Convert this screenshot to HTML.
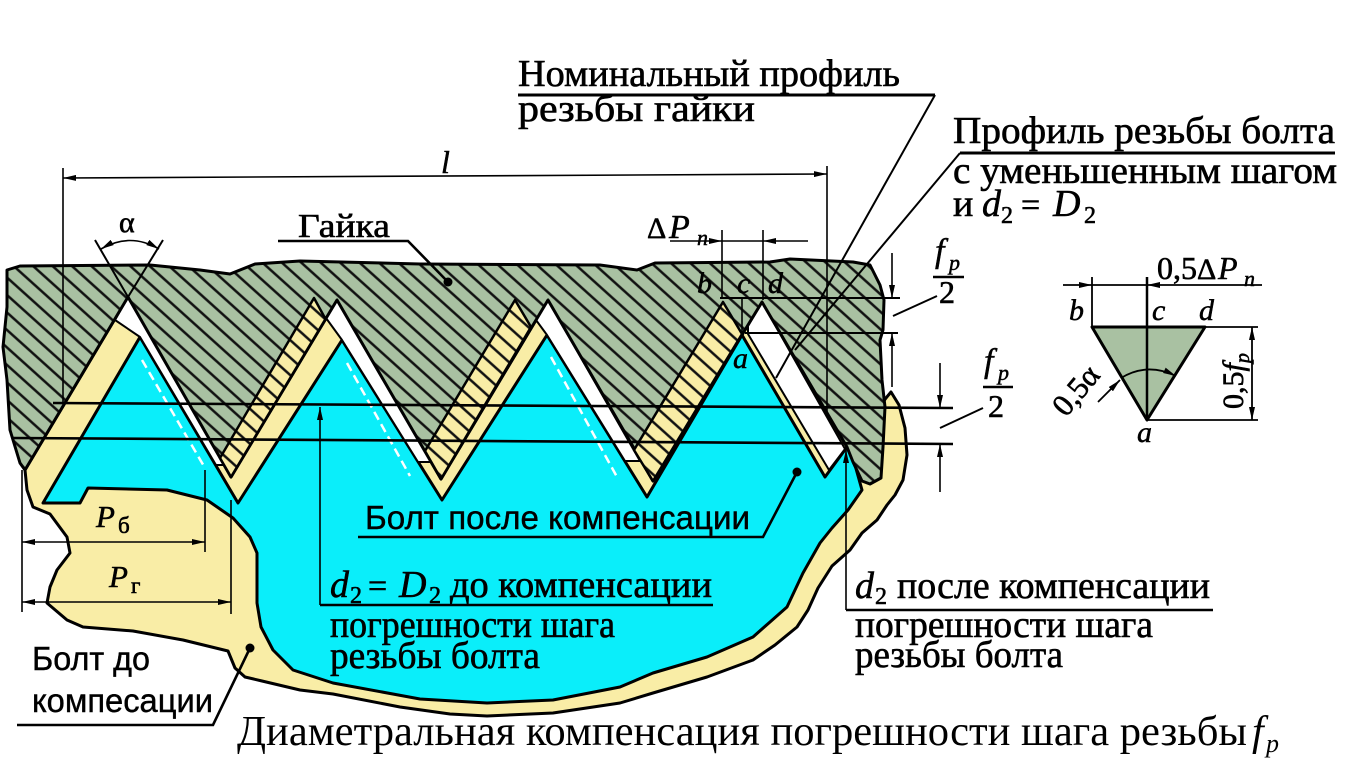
<!DOCTYPE html>
<html><head><meta charset="utf-8">
<style>
html,body{margin:0;padding:0;background:#fff}
svg{display:block}
.s{font-family:"Liberation Serif","DejaVu Serif",serif;fill:#000;stroke:#000;stroke-width:0.6}
.si{font-family:"Liberation Serif","DejaVu Serif",serif;font-style:italic;fill:#000;stroke:#000;stroke-width:0.5}
.c{font-family:"Liberation Serif","DejaVu Serif",serif;fill:#000}
.a{font-family:"Liberation Sans","DejaVu Sans",sans-serif;fill:#000;stroke:#000;stroke-width:0.4}
.ln{stroke:#000;fill:none}
</style></head>
<body>
<svg width="1354" height="772" viewBox="0 0 1354 772" xmlns="http://www.w3.org/2000/svg">
<defs>
<pattern id="hat" patternUnits="userSpaceOnUse" width="40" height="13" patternTransform="rotate(42)">
<rect width="40" height="13" fill="#a9c1a2"/><rect y="5.3" width="40" height="2.5" fill="#111"/>
</pattern>
<pattern id="haty" patternUnits="userSpaceOnUse" width="40" height="13" patternTransform="rotate(42)">
<rect width="40" height="13" fill="#f9eda6"/><rect y="5.3" width="40" height="2.5" fill="#111"/>
</pattern>
<marker id="ar" viewBox="0 0 13 6" refX="13" refY="3" markerWidth="13" markerHeight="6" markerUnits="userSpaceOnUse" orient="auto-start-reverse">
<path d="M0,0 L13,3 L0,6 z" fill="#000"/>
</marker>
</defs>
<rect width="1354" height="772" fill="#fff"/>

<path d="M25,470 L128,297 L231,477 L337,300 L441,479 L548,300 L653,481 L762,302 L847,447 L870,420 L886,398 L891,392 L899,405 L905,428 L907,455 L903,480 L895,495 L887,505 L877,520 L862,533 L850,550 L832,566 L818,588 L808,610 L797,627 L775,645 L753,660 L707,677 L653,693 L620,703 L553,713 L487,716 L450,714 L400,707 L333,694 L300,690 L262,681 L245,677 L235,668 L228,651 L183,640 L133,631 L83,627 L67,620 L47,603 L50,587 L57,570 L70,553 L67,537 L50,514 L33,507 L27,490 Z" fill="#f9eda6" stroke="#000" stroke-width="3" stroke-linejoin="round"/>

<path d="M43,503 L140,337 L238,503 L342,340 L442,500 L547,335 L647,497 L742,335 L825,477 L847,447 L855,465 L862,490 L848,510 L832,528 L820,543 L803,573 L787,607 L770,622 L753,637 L707,657 L653,673 L620,687 L553,700 L487,703 L420,699 L333,683 L293,670 L273,650 L261,627 L257,603 L257,553 L250,537 L233,518 L207,500 L167,490 L88,488 L80,503 Z" fill="#0aeefa" stroke="#000" stroke-width="3" stroke-linejoin="round"/>

<g fill="#fff" stroke="#000" stroke-width="2" stroke-linejoin="round">
<path d="M128,297 L115,320 L140,337 L216,465 L224,465 Z"/>
<path d="M337,300 L326,318 L342,340 L418,462 L433,462 Z"/>
<path d="M548,300 L536,320 L547,335 L625,461 L640,461 Z"/>
<path d="M762,302 L748,326 L748,334 L829,470 L845,449 Z"/>
</g>

<g stroke="#fff" stroke-width="2.5" stroke-dasharray="9,5">
<line x1="142" y1="360" x2="205" y2="468"/>
<line x1="347" y1="363" x2="410" y2="476"/>
<line x1="551" y1="357" x2="617" y2="477"/>
</g>

<path d="M7,270 L20,266 L150,265 L200,270 L230,274 L255,264 L300,261 L420,264 L600,265 L637,270 L655,263 L770,262 L790,259 L853,262 L870,265 L880,285 L884,300 L883,330 L880,340 L882,380 L885,407 L883,447 L881,478 L870,484 L862,481 L853,462 L847,447 L762,302 L653,481 L548,300 L441,479 L337,300 L231,477 L128,297 L25,470 L20,463 L10,430 L7,380 L3,347 L7,307 Z" fill="url(#hat)" stroke="#000" stroke-width="3" stroke-linejoin="round"/>

<g fill="url(#haty)" stroke="#000" stroke-width="2.5" stroke-linejoin="round">
<path d="M314,298 L325.5,319 L231,477 L220,458 Z"/>
<path d="M515,300 L531,327 L441,479 L425,451 Z"/>
<path d="M723,302 L742,334 L653,481 L634,450 Z"/>
</g>

<g class="ln" stroke-width="1.6">
<line x1="63" y1="168" x2="63" y2="403"/>
<line x1="827" y1="166" x2="827" y2="415"/>
<line x1="722" y1="230" x2="722" y2="298"/>
<line x1="763" y1="230" x2="763" y2="300"/>
<line x1="742" y1="298" x2="742" y2="334"/>
<line x1="22" y1="470" x2="22" y2="612"/>
<line x1="205" y1="470" x2="205" y2="552"/>
<line x1="231" y1="500" x2="231" y2="614"/>
<line x1="892" y1="253" x2="892" y2="298" marker-end="url(#ar)"/>
<line x1="892" y1="387" x2="892" y2="333" marker-end="url(#ar)"/>
<line x1="940" y1="363" x2="940" y2="408" marker-end="url(#ar)"/>
<line x1="940" y1="492" x2="940" y2="444" marker-end="url(#ar)"/>
<line x1="63" y1="178" x2="827" y2="174" marker-start="url(#ar)" marker-end="url(#ar)"/>
<line x1="670" y1="241" x2="722" y2="241" marker-end="url(#ar)"/>
<line x1="722" y1="241" x2="763" y2="241"/>
<line x1="808" y1="241" x2="763" y2="241" marker-end="url(#ar)"/>
<line x1="22" y1="542" x2="205" y2="542" marker-start="url(#ar)" marker-end="url(#ar)"/>
<line x1="22" y1="602" x2="231" y2="602" marker-start="url(#ar)" marker-end="url(#ar)"/>
<line x1="320" y1="605" x2="320" y2="407" marker-end="url(#ar)"/>
<line x1="846" y1="610" x2="846" y2="450" marker-end="url(#ar)"/>
<path d="M101,249 Q130,232 159,249" marker-start="url(#ar)" marker-end="url(#ar)"/>
</g>
<g class="ln" stroke-width="2">
<line x1="95" y1="240" x2="128" y2="297"/>
<line x1="163" y1="240" x2="128" y2="297"/>
<line x1="720" y1="298" x2="900" y2="298"/>
<line x1="745" y1="333" x2="898" y2="333"/>
<line x1="935" y1="95" x2="776" y2="378"/>
<line x1="960" y1="153" x2="795" y2="350"/>
<line x1="893" y1="316" x2="937" y2="296"/>
<line x1="940" y1="428" x2="983" y2="408"/>
</g>
<g class="ln" stroke-width="2.6">
<line x1="53" y1="403" x2="953" y2="408"/>
<line x1="13" y1="438" x2="953" y2="444"/>
<line x1="518" y1="95" x2="935" y2="95" stroke-width="3"/>
<line x1="960" y1="153" x2="1335" y2="153" stroke-width="3"/>
<polyline points="278,241 408,241 448,282"/>
<polyline points="358,537 763,537 797,472"/>
<line x1="320" y1="605" x2="713" y2="605"/>
<line x1="846" y1="610" x2="1213" y2="610"/>
<polyline points="17,725 213,725 250,648"/>
<line x1="933" y1="277" x2="964" y2="277"/>
<line x1="983" y1="387" x2="1013" y2="387"/>
</g>
<g fill="#000">
<circle cx="448" cy="282" r="4.5"/>
<circle cx="797" cy="472" r="4.5"/>
<circle cx="250" cy="648" r="4.5"/>
</g>

<path d="M1092,327 L1205,327 L1147,420 Z" fill="#a9c1a2" stroke="#000" stroke-width="3" stroke-linejoin="round"/>
<g class="ln" stroke-width="1.8">
<line x1="1147" y1="277" x2="1147" y2="420" stroke-width="2.5"/>
<line x1="1092" y1="277" x2="1092" y2="327"/>
<line x1="1063" y1="285" x2="1092" y2="285" marker-end="url(#ar)"/>
<line x1="1092" y1="285" x2="1147" y2="285"/>
<line x1="1262" y1="285" x2="1147" y2="285" marker-end="url(#ar)"/>
<line x1="1205" y1="327" x2="1258" y2="327"/>
<line x1="1147" y1="420" x2="1258" y2="420"/>
<line x1="1252" y1="327" x2="1252" y2="420" marker-start="url(#ar)" marker-end="url(#ar)"/>
<path d="M1121,378 Q1147,362 1176,376" marker-end="url(#ar)"/>
<line x1="1098" y1="402" x2="1120" y2="380" marker-end="url(#ar)"/>
</g>

<!-- texts -->
<text x="518" y="86" class="s" style="font-size:38px" textLength="382" lengthAdjust="spacingAndGlyphs">Номинальный профиль</text>
<text x="518" y="121" class="s" style="font-size:38px" textLength="237" lengthAdjust="spacingAndGlyphs">резьбы гайки</text>
<text x="953" y="143" class="s" style="font-size:38px" textLength="382" lengthAdjust="spacingAndGlyphs">Профиль резьбы болта</text>
<text x="953" y="183" class="s" style="font-size:38px" textLength="384" lengthAdjust="spacingAndGlyphs">с  уменьшенным шагом</text>
<text x="953" y="216" class="s" style="font-size:38px">и</text>
<text x="982" y="216" class="si" style="font-size:38px">d</text>
<text x="1001" y="223" class="s" style="font-size:24px">2</text>
<text x="1021" y="216" class="s" style="font-size:34px">=</text>
<text x="1053" y="216" class="si" style="font-size:38px">D</text>
<text x="1084" y="223" class="s" style="font-size:24px">2</text>

<text x="441" y="173" class="si" style="font-size:32px">l</text>
<text x="119" y="232" class="s" style="font-size:30px">α</text>
<text x="298" y="237" class="s" style="font-size:34px" textLength="92" lengthAdjust="spacingAndGlyphs">Гайка</text>
<text x="647" y="238" class="s" style="font-size:30px">Δ</text>
<text x="669" y="238" class="si" style="font-size:34px">P</text>
<text x="697" y="245" class="si" style="font-size:22px">n</text>
<text x="697" y="293" class="si" style="font-size:30px">b</text>
<text x="737" y="293" class="si" style="font-size:30px">c</text>
<text x="768" y="293" class="si" style="font-size:30px">d</text>
<text x="733" y="368" class="si" style="font-size:30px">a</text>

<text x="935" y="262" class="si" style="font-size:34px">f</text>
<text x="949" y="270" class="si" style="font-size:22px">p</text>
<text x="939" y="303" class="s" style="font-size:32px">2</text>
<text x="984" y="372" class="si" style="font-size:34px">f</text>
<text x="998" y="380" class="si" style="font-size:22px">p</text>
<text x="988" y="417" class="s" style="font-size:32px">2</text>

<text x="1157" y="279" class="s" style="font-size:32px">0,5</text>
<text x="1197" y="279" class="s" style="font-size:30px">Δ</text>
<text x="1218" y="279" class="si" style="font-size:32px">P</text>
<text x="1244" y="286" class="si" style="font-size:22px">n</text>
<text x="1069" y="320" class="si" style="font-size:30px">b</text>
<text x="1152" y="320" class="si" style="font-size:30px">c</text>
<text x="1199" y="320" class="si" style="font-size:30px">d</text>
<text x="1137" y="442" class="si" style="font-size:30px">a</text>
<text transform="translate(1243,409) rotate(-90)" class="s" style="font-size:30px">0,5<tspan style="font-style:italic">f</tspan><tspan style="font-style:italic;font-size:20px" dy="6">p</tspan></text>
<text transform="translate(1066,418) rotate(-50)" class="s" style="font-size:31px">0,5α</text>

<text x="96" y="527" class="si" style="font-size:31px">P</text>
<text x="118" y="533" class="s" style="font-size:23px">б</text>
<text x="109" y="587" class="si" style="font-size:31px">P</text>
<text x="131" y="593" class="s" style="font-size:23px">г</text>

<text x="365" y="529" class="a" style="font-size:33px" textLength="385" lengthAdjust="spacingAndGlyphs">Болт после компенсации</text>

<text x="330" y="597" class="si" style="font-size:38px">d</text>
<text x="350" y="603" class="s" style="font-size:24px">2</text>
<text x="368" y="597" class="s" style="font-size:34px">=</text>
<text x="399" y="597" class="si" style="font-size:38px">D</text>
<text x="429" y="603" class="s" style="font-size:24px">2</text>
<text x="450" y="597" class="s" style="font-size:38px" textLength="262" lengthAdjust="spacingAndGlyphs">до компенсации</text>
<text x="330" y="637" class="s" style="font-size:38px" textLength="285" lengthAdjust="spacingAndGlyphs">погрешности шага</text>
<text x="330" y="668" class="s" style="font-size:38px" textLength="210" lengthAdjust="spacingAndGlyphs">резьбы болта</text>

<text x="855" y="598" class="si" style="font-size:38px">d</text>
<text x="875" y="604" class="s" style="font-size:24px">2</text>
<text x="897" y="598" class="s" style="font-size:38px" textLength="313" lengthAdjust="spacingAndGlyphs">после компенсации</text>
<text x="855" y="637" class="s" style="font-size:38px" textLength="298" lengthAdjust="spacingAndGlyphs">погрешности шага</text>
<text x="855" y="667" class="s" style="font-size:38px" textLength="208" lengthAdjust="spacingAndGlyphs">резьбы болта</text>

<text x="32" y="670" class="a" style="font-size:33px" textLength="118" lengthAdjust="spacingAndGlyphs">Болт до</text>
<text x="32" y="712" class="a" style="font-size:33px" textLength="181" lengthAdjust="spacingAndGlyphs">компесации</text>

<text x="237" y="745" class="c" style="font-size:42px" textLength="1010" lengthAdjust="spacingAndGlyphs">Диаметральная компенсация погрешности шага резьбы</text>
<text x="1252" y="745" class="c" style="font-size:42px;font-style:italic">f</text>
<text x="1266" y="752" class="c" style="font-size:26px;font-style:italic">p</text>
</svg>
</body></html>
